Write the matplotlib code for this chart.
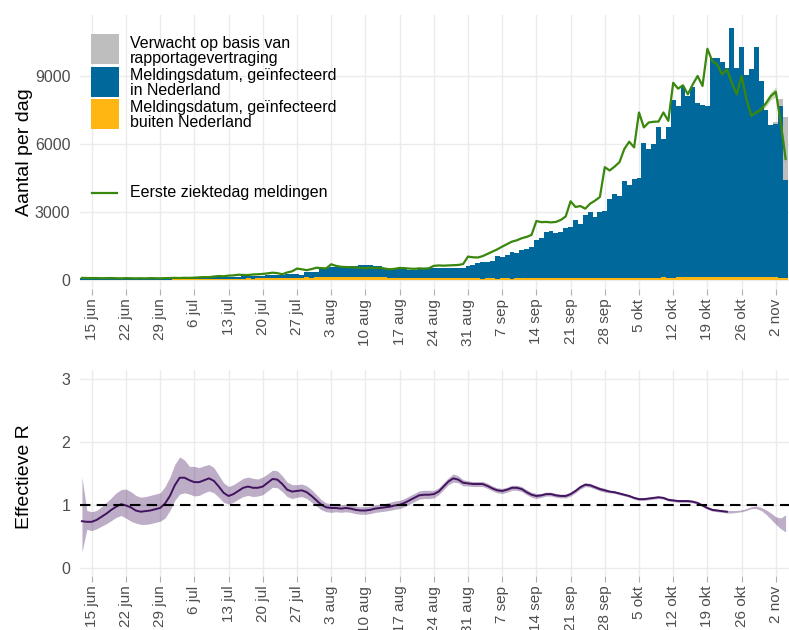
import numpy as np
import matplotlib
matplotlib.use('Agg')
import matplotlib.pyplot as plt
import matplotlib.dates as mdates
from matplotlib.patches import Rectangle
from matplotlib.lines import Line2D

plt.rcParams['font.family'] = ['Liberation Sans', 'DejaVu Sans']

# dagen 13 jun t/m 4 nov 2020
dates = np.arange(np.datetime64('2020-06-13'), np.datetime64('2020-11-05'))

# meldingsdatum, geinfecteerd in Nederland
blue_nl = [
    60, 55, 50, 65, 55, 50, 45, 60, 55, 50, 45, 40,
    45, 40, 50, 45, 40, 45, 50, 55, 50, 60, 55,
    60, 65, 55, 70, 75, 75, 70, 85, 90, 95,
    100, 95, 110, 115, 120, 130, 135, 130, 150, 150, 160,
    140, 130, 230, 250, 250, 390, 400,
    440, 440, 470, 480, 500, 480, 530,
    530, 550, 510, 490, 370, 370, 360,
    370, 390, 360, 370, 380, 400, 420,
    440, 430, 460, 450, 440, 460, 470,
    550, 610, 670, 710, 740, 760, 1000,
    940, 1040, 1190, 1120, 1230, 1310, 1400,
    1690, 1770, 2050, 2070, 1980, 2040, 2220,
    2260, 2550, 2410, 2760, 2910, 2700, 2920,
    2940, 3490, 3710, 3600, 4270, 4110, 4340,
    4400, 5930, 5680, 5900, 6670, 6110, 6650,
    7830, 7570, 8440, 8000, 8410, 7680, 7590,
    7560, 9680, 9650, 9500, 9230, 10990, 9230,
    10140, 8900, 9200, 10150, 8650, 7380, 6720,
    6780, 7580, 4300,
]

# meldingsdatum, geinfecteerd buiten Nederland
orange_abroad = [
    10, 10, 8, 12, 10, 8, 10, 12, 10, 8, 10, 12, 10, 15, 12, 10, 15, 18, 15, 20, 22, 20, 25,
    25, 30, 28, 35, 40, 38, 45, 50, 48, 55, 60, 65, 60, 70, 75, 70, 80, 85, 80, 90, 95,
    100, 95, 110, 105, 120, 115, 125, 130, 120, 135, 140, 130, 125, 120, 115, 110, 120, 115, 110, 100, 105,
    100, 95, 100, 90, 95, 85, 90, 80, 85, 80, 75, 70, 75, 70, 65, 70, 65, 60, 70, 65, 60, 65, 70, 60, 65, 70, 75, 70,
    75, 70, 80, 75, 70, 80, 85, 80, 75, 80, 85, 90, 85, 80, 90, 95, 90, 85, 90, 100, 95, 90, 100, 105, 100, 95,
    110, 105, 100, 110, 115, 110, 120, 125, 120, 115, 130, 125, 120, 130, 135, 130, 125, 140, 130, 120, 130, 125,
    120, 110, 100, 90,
]

# verwacht op basis van rapportagevertraging (laatste 5 dagen)
expected_tail = [0, 0, 100, 300, 2800]

# eerste ziektedag meldingen
green_onset = [
    90, 85, 80, 85, 75, 80, 85, 75, 70, 80, 75, 70,
    75, 70, 80, 75, 70, 80, 85, 90, 85, 95, 90,
    100, 115, 125, 120, 150, 170, 160, 190, 200, 230,
    220, 215, 240, 250, 265, 290, 320, 300, 250, 330, 380,
    500, 470, 430, 480, 540, 520, 510,
    690, 620, 580, 570, 560, 550, 530,
    520, 540, 520, 540, 500, 470, 490,
    530, 520, 500, 490, 510, 500, 515,
    620, 640, 630, 640, 650, 660, 700,
    1030, 1000, 990, 1050, 1150, 1250, 1350,
    1470, 1580, 1690, 1750, 1840, 1900, 1985,
    2600, 2550, 2560, 2540, 2560, 2650, 2800,
    3470, 3220, 3260, 3145, 3365, 3500, 3660,
    4975, 4830, 5000, 5195, 5780, 6100, 5850,
    7390, 6730, 6950, 6980, 6990, 7390, 7020,
    8700, 8440, 8590, 8190, 8630, 9000, 8560,
    10200, 9660, 9510, 9070, 9290, 8700, 8190,
    9000, 7970, 7240, 7400, 7530, 7800, 8120,
    8300, 6950, 5340,
]
# onzekerheid eerste ziektedag, laatste 7 dagen
green_hi_tail = [7500, 7650, 7950, 8300, 8500, 7150, 5600]
green_lo_tail = [7300, 7420, 7650, 7950, 8100, 6750, 5100]

# effectieve R (13 jun t/m 23 okt)
r_mid = [
    0.75, 0.74, 0.74, 0.77, 0.82, 0.87, 0.93, 0.98, 1.02,
    1.00, 0.97, 0.92, 0.90, 0.91, 0.92, 0.94,
    0.96, 1.03, 1.15, 1.32, 1.44, 1.44, 1.40,
    1.37, 1.37, 1.40, 1.43, 1.39, 1.30, 1.20,
    1.15, 1.18, 1.23, 1.28, 1.30, 1.28, 1.28,
    1.30, 1.36, 1.42, 1.41, 1.34, 1.25, 1.22,
    1.23, 1.24, 1.21, 1.15, 1.08, 1.01, 0.97,
    0.96, 0.96, 0.95, 0.96, 0.95, 0.93, 0.92,
    0.92, 0.93, 0.95, 0.96, 0.97, 0.98, 1.00,
    1.01, 1.04, 1.08, 1.12, 1.16, 1.17, 1.17,
    1.18, 1.22, 1.30, 1.38, 1.43, 1.41, 1.36,
    1.35, 1.34, 1.34, 1.34, 1.31, 1.27, 1.24,
    1.23, 1.25, 1.28, 1.28, 1.26, 1.21, 1.17,
    1.15, 1.16, 1.18, 1.18, 1.16, 1.15, 1.15,
    1.18, 1.23, 1.29, 1.33, 1.32, 1.29, 1.26,
    1.24, 1.22, 1.21, 1.19, 1.17, 1.15, 1.12,
    1.10, 1.10, 1.11, 1.12, 1.13, 1.12, 1.09,
    1.08, 1.07, 1.07, 1.07, 1.06, 1.04, 1.00,
    0.96, 0.93, 0.92, 0.91, 0.90,
]
r_hi = [
    1.45, 0.92, 0.90, 0.92, 0.98, 1.05, 1.12, 1.20, 1.25,
    1.26, 1.22, 1.16, 1.13, 1.14, 1.16, 1.18,
    1.20, 1.30, 1.45, 1.65, 1.77, 1.72, 1.62,
    1.62, 1.60, 1.63, 1.65, 1.60, 1.48, 1.36,
    1.30, 1.33, 1.38, 1.43, 1.45, 1.43, 1.42,
    1.45, 1.50, 1.56, 1.55, 1.47, 1.37, 1.33,
    1.33, 1.34, 1.31, 1.25, 1.17, 1.09, 1.04,
    1.03, 1.02, 1.01, 1.02, 1.01, 0.99, 0.98,
    0.98, 0.99, 1.01, 1.02, 1.03, 1.05, 1.07,
    1.08, 1.11, 1.15, 1.19, 1.23, 1.24, 1.24,
    1.24, 1.28, 1.36, 1.44, 1.50, 1.47, 1.41,
    1.39, 1.38, 1.38, 1.38, 1.35, 1.31, 1.28,
    1.27, 1.29, 1.32, 1.32, 1.30, 1.25, 1.21,
    1.19, 1.19, 1.21, 1.21, 1.19, 1.18, 1.18,
    1.21, 1.26, 1.32, 1.36, 1.35, 1.32, 1.29,
    1.27, 1.24, 1.23, 1.21, 1.19, 1.17, 1.14,
    1.12, 1.12, 1.13, 1.14, 1.15, 1.14, 1.11,
    1.10, 1.09, 1.09, 1.09, 1.08, 1.06, 1.02,
    0.98, 0.95, 0.94, 0.93, 0.92, 0.92, 0.92,
    0.93, 0.95, 0.98, 0.99, 0.97, 0.93, 0.88,
    0.82, 0.80, 0.85,
]
r_lo = [
    0.26, 0.62, 0.60, 0.63, 0.67, 0.71, 0.76, 0.81, 0.84,
    0.80, 0.75, 0.72, 0.70, 0.70, 0.71, 0.73,
    0.75, 0.80, 0.92, 1.08, 1.18, 1.20, 1.18,
    1.15, 1.16, 1.20, 1.23, 1.20, 1.13, 1.05,
    1.02, 1.05, 1.10, 1.14, 1.16, 1.14, 1.15,
    1.17, 1.23, 1.29, 1.28, 1.22, 1.14, 1.11,
    1.13, 1.14, 1.11, 1.05, 0.99, 0.93, 0.90,
    0.89, 0.90, 0.89, 0.90, 0.89, 0.87, 0.86,
    0.86, 0.87, 0.89, 0.90, 0.91, 0.92, 0.94,
    0.95, 0.98, 1.02, 1.06, 1.10, 1.11, 1.11,
    1.12, 1.17, 1.25, 1.33, 1.37, 1.36, 1.31,
    1.31, 1.30, 1.30, 1.30, 1.27, 1.23, 1.20,
    1.19, 1.21, 1.24, 1.24, 1.22, 1.17, 1.13,
    1.11, 1.13, 1.15, 1.15, 1.13, 1.12, 1.12,
    1.15, 1.20, 1.26, 1.30, 1.29, 1.26, 1.23,
    1.21, 1.20, 1.19, 1.17, 1.15, 1.13, 1.10,
    1.08, 1.08, 1.09, 1.10, 1.11, 1.10, 1.07,
    1.06, 1.05, 1.05, 1.05, 1.04, 1.02, 0.98,
    0.94, 0.91, 0.90, 0.89, 0.88, 0.88, 0.89,
    0.90, 0.92, 0.95, 0.95, 0.92, 0.86, 0.78,
    0.70, 0.63, 0.58,
]

tick_dates = np.arange(np.datetime64('2020-06-15'), np.datetime64('2020-11-03'), 7)
tick_labels = ['15 jun', '22 jun', '29 jun', '6 jul', '13 jul', '20 jul', '27 jul',
               '3 aug', '10 aug', '17 aug', '24 aug', '31 aug', '7 sep', '14 sep',
               '21 sep', '28 sep', '5 okt', '12 okt', '19 okt', '26 okt', '2 nov']

c_grey = '#BEBEBE'
c_blue = '#01689B'
c_orange = '#FFB612'
c_green = '#39870C'
c_purple = '#42145F'
c_grid = '#EBEBEB'
c_text = '#4D4D4D'

blue_nl = np.array(blue_nl)
orange_abroad = np.array(orange_abroad)
expected = np.zeros(len(dates))
expected[-len(expected_tail):] = expected_tail

W, H = 789, 630
fig = plt.figure(figsize=(W / 100, H / 100), dpi=100)
ax1 = fig.add_axes([80 / W, 1 - 289 / H, 1 - 80 / W, 274.2 / H])
ax2 = fig.add_axes([80 / W, 1 - 576 / H, 1 - 80 / W, 206 / H])

# bovenste paneel
ax1.bar(dates, orange_abroad, width=1.0, color=c_orange, linewidth=0)
ax1.bar(dates, blue_nl, width=1.0, bottom=orange_abroad, color=c_blue, linewidth=0)
ax1.bar(dates, expected, width=1.0, bottom=orange_abroad + blue_nl, color=c_grey, linewidth=0)
tail = dates[-len(green_hi_tail):]
ax1.fill_between(tail, green_lo_tail, green_hi_tail, color=c_green, alpha=0.3, linewidth=0)
ax1.plot(dates, green_onset, color=c_green, lw=1.6)
ax1.set_ylim(-400, 11700)
ax1.set_yticks([0, 3000, 6000, 9000])
ax1.set_ylabel('Aantal per dag', fontsize=14)
ax1.yaxis.set_label_coords(-0.066, 0.5)

# onderste paneel
ax2.fill_between(dates, r_lo, r_hi, color=c_purple, alpha=0.35, linewidth=0)
ax2.plot(dates[:len(r_mid)], r_mid, color=c_purple, lw=1.4)
ax2.axhline(1, color='black', lw=1.5, ls=(0, (5, 3)))
ax2.set_ylim(-0.12, 3.15)
ax2.set_yticks([0, 1, 2, 3])
ax2.set_ylabel('Effectieve R', fontsize=14)
ax2.yaxis.set_label_coords(-0.066, 0.48)

x0 = mdates.date2num(np.datetime64('2020-06-15')) - 2.4
x1 = mdates.date2num(np.datetime64('2020-11-02')) + 2.7
for ax in (ax1, ax2):
    ax.set_xlim(x0, x1)
    ax.set_xticks(tick_dates)
    ax.set_xticklabels(tick_labels, rotation=90, fontsize=11, color=c_text)
    ax.tick_params(axis='x', length=4, color='#B0B0B0', pad=3)
    ax.tick_params(axis='y', length=0, labelsize=11.5, labelcolor=c_text, pad=7)
    ax.grid(color=c_grid, lw=1.0)
    ax.set_axisbelow(True)
    for s in ax.spines.values():
        s.set_visible(False)

# legenda
keys = [(c_grey, 34.3, 'Verwacht op basis van\nrapportagevertraging'),
        (c_blue, 66.7, 'Meldingsdatum, geïnfecteerd\nin Nederland'),
        (c_orange, 99.0, 'Meldingsdatum, geïnfecteerd\nbuiten Nederland')]
for col, top, lab in keys:
    fig.add_artist(Rectangle((90.7 / W, 1 - (top + 30) / H), 28.3 / W, 30 / H,
                             transform=fig.transFigure, color=col, lw=0))
    fig.text(130 / W, 1 - (top + 16.3) / H, lab, fontsize=11.5, va='center',
             ha='left', linespacing=1.0)
fig.add_artist(Line2D([92 / W, 117 / W], [1 - 193 / H] * 2, color=c_green, lw=1.6,
                      transform=fig.transFigure))
fig.text(130 / W, 1 - 193 / H, 'Eerste ziektedag meldingen', fontsize=11.5,
         va='center', ha='left')

fig.savefig('out.png', dpi=100)
